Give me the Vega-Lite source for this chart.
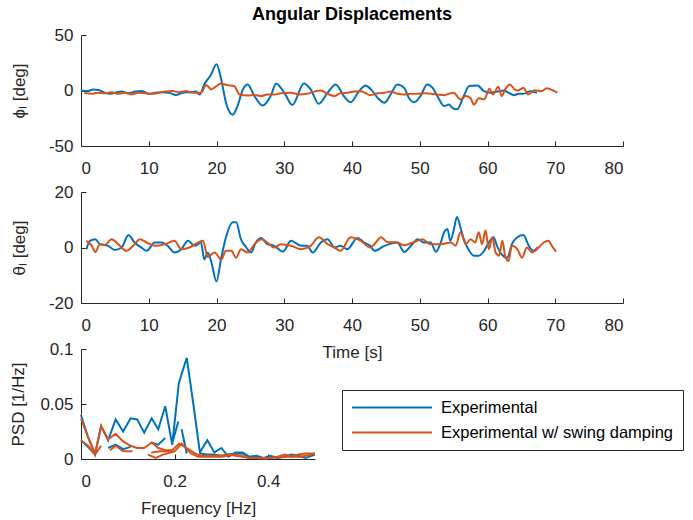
{
  "$schema": "https://vega.github.io/schema/vega-lite/v6.json",
  "background": "white",
  "padding": {"left": 9, "top": 6, "right": 5, "bottom": 5},
  "bounds": "flush",
  "spacing": 46,
  "config": {
    "view": {"stroke": null},
    "font": "Liberation Sans",
    "axis": {
      "grid": false,
      "domainColor": "#262626",
      "tickColor": "#262626",
      "labelColor": "#262626",
      "titleColor": "#262626",
      "labelFont": "Liberation Sans",
      "titleFont": "Liberation Sans",
      "labelFontSize": 17,
      "titleFontSize": 17,
      "titleFontWeight": "normal",
      "tickSize": -5,
      "domainWidth": 1,
      "tickWidth": 1,
      "labelExpr": "replace(format(datum.value, '~g'), '\u2212', '-')"
    },
    "axisX": {"labelPadding": 19, "titlePadding": 11},
    "axisY": {"labelPadding": 13, "titlePadding": 15}
  },
  "resolve": {"legend": {"color": "independent"}},
  "datasets": {
    "phi": [
      {"s": "Experimental", "t": 0, "v": 0}, {"s": "Experimental", "t": 1, "v": -0.5}, {"s": "Experimental", "t": 1.8, "v": 1}, {"s": "Experimental", "t": 2.6, "v": 0.5}, {"s": "Experimental", "t": 3.3, "v": -1.5}, {"s": "Experimental", "t": 4.2, "v": -3}, {"s": "Experimental", "t": 5, "v": -2}, {"s": "Experimental", "t": 6, "v": -1}, {"s": "Experimental", "t": 7, "v": -2.5}, {"s": "Experimental", "t": 8, "v": -1}, {"s": "Experimental", "t": 9, "v": -0.5}, {"s": "Experimental", "t": 10, "v": -3}, {"s": "Experimental", "t": 11, "v": -2}, {"s": "Experimental", "t": 12, "v": -1.5}, {"s": "Experimental", "t": 13, "v": -2}, {"s": "Experimental", "t": 14, "v": -4}, {"s": "Experimental", "t": 15, "v": -2}, {"s": "Experimental", "t": 16, "v": -1.5}, {"s": "Experimental", "t": 17, "v": -1}, {"s": "Experimental", "t": 17.5, "v": -3.6}, {"s": "Experimental", "t": 18.2, "v": 5.5}, {"s": "Experimental", "t": 19.2, "v": 14.5}, {"s": "Experimental", "t": 20, "v": 23.6}, {"s": "Experimental", "t": 20.7, "v": 10}, {"s": "Experimental", "t": 21.4, "v": -11}, {"s": "Experimental", "t": 22.4, "v": -21.8}, {"s": "Experimental", "t": 23.1, "v": -14}, {"s": "Experimental", "t": 23.9, "v": 1}, {"s": "Experimental", "t": 24.6, "v": 5.5}, {"s": "Experimental", "t": 25.6, "v": -5}, {"s": "Experimental", "t": 26.8, "v": -13.6}, {"s": "Experimental", "t": 28, "v": -5}, {"s": "Experimental", "t": 28.8, "v": 6.4}, {"s": "Experimental", "t": 30, "v": -2}, {"s": "Experimental", "t": 31.2, "v": -13}, {"s": "Experimental", "t": 32.9, "v": 6.4}, {"s": "Experimental", "t": 33.9, "v": 1}, {"s": "Experimental", "t": 35.1, "v": -12}, {"s": "Experimental", "t": 36.4, "v": -2}, {"s": "Experimental", "t": 37.6, "v": 5.5}, {"s": "Experimental", "t": 38.8, "v": -5}, {"s": "Experimental", "t": 39.8, "v": -10.6}, {"s": "Experimental", "t": 41, "v": -1}, {"s": "Experimental", "t": 42, "v": 4.5}, {"s": "Experimental", "t": 42.8, "v": 1}, {"s": "Experimental", "t": 43.8, "v": -6.7}, {"s": "Experimental", "t": 44.8, "v": -11}, {"s": "Experimental", "t": 45.7, "v": -3.6}, {"s": "Experimental", "t": 46.7, "v": 5.5}, {"s": "Experimental", "t": 47.7, "v": 2.4}, {"s": "Experimental", "t": 48.4, "v": -6.7}, {"s": "Experimental", "t": 49.2, "v": -10.6}, {"s": "Experimental", "t": 50.1, "v": -5}, {"s": "Experimental", "t": 51.1, "v": 5.5}, {"s": "Experimental", "t": 51.9, "v": 2.4}, {"s": "Experimental", "t": 52.6, "v": -5}, {"s": "Experimental", "t": 53.6, "v": -14}, {"s": "Experimental", "t": 54.3, "v": -12.7}, {"s": "Experimental", "t": 54.8, "v": -15.5}, {"s": "Experimental", "t": 55.5, "v": -17}, {"s": "Experimental", "t": 56.5, "v": -5}, {"s": "Experimental", "t": 57.3, "v": 4}, {"s": "Experimental", "t": 58.5, "v": 4.5}, {"s": "Experimental", "t": 59.5, "v": -0.6}, {"s": "Experimental", "t": 60.4, "v": -2}, {"s": "Experimental", "t": 61.4, "v": -1}, {"s": "Experimental", "t": 62.4, "v": 0}, {"s": "Experimental", "t": 63.1, "v": -2}, {"s": "Experimental", "t": 63.9, "v": -4.2}, {"s": "Experimental", "t": 64.6, "v": -3}, {"s": "Experimental", "t": 65.3, "v": -3}, {"s": "Experimental", "t": 66.3, "v": -0.6}, {"s": "Experimental", "t": 67.3, "v": -2},
      {"s": "Experimental w/ swing damping", "t": 0.5, "v": -2}, {"s": "Experimental w/ swing damping", "t": 1.5, "v": -3}, {"s": "Experimental w/ swing damping", "t": 2.5, "v": -2}, {"s": "Experimental w/ swing damping", "t": 3.5, "v": -2.5}, {"s": "Experimental w/ swing damping", "t": 4.5, "v": -1.5}, {"s": "Experimental w/ swing damping", "t": 5.5, "v": -3}, {"s": "Experimental w/ swing damping", "t": 6.5, "v": -2}, {"s": "Experimental w/ swing damping", "t": 7.5, "v": -3.5}, {"s": "Experimental w/ swing damping", "t": 8.5, "v": -2}, {"s": "Experimental w/ swing damping", "t": 9.5, "v": -2.5}, {"s": "Experimental w/ swing damping", "t": 10.5, "v": -3}, {"s": "Experimental w/ swing damping", "t": 11.5, "v": -2}, {"s": "Experimental w/ swing damping", "t": 12.4, "v": -1}, {"s": "Experimental w/ swing damping", "t": 13.5, "v": -0.5}, {"s": "Experimental w/ swing damping", "t": 14.5, "v": -1.5}, {"s": "Experimental w/ swing damping", "t": 15.5, "v": -0.5}, {"s": "Experimental w/ swing damping", "t": 16.5, "v": -2}, {"s": "Experimental w/ swing damping", "t": 17.7, "v": -2}, {"s": "Experimental w/ swing damping", "t": 18.5, "v": 5}, {"s": "Experimental w/ swing damping", "t": 19.2, "v": 1}, {"s": "Experimental w/ swing damping", "t": 19.8, "v": 3}, {"s": "Experimental w/ swing damping", "t": 20.7, "v": 6.4}, {"s": "Experimental w/ swing damping", "t": 21.5, "v": 5}, {"s": "Experimental w/ swing damping", "t": 22.6, "v": 4}, {"s": "Experimental w/ swing damping", "t": 23.4, "v": -3.6}, {"s": "Experimental w/ swing damping", "t": 24.6, "v": -4.5}, {"s": "Experimental w/ swing damping", "t": 25.6, "v": -4}, {"s": "Experimental w/ swing damping", "t": 26.6, "v": -5}, {"s": "Experimental w/ swing damping", "t": 27.5, "v": -3.5}, {"s": "Experimental w/ swing damping", "t": 28.5, "v": -3.6}, {"s": "Experimental w/ swing damping", "t": 29.5, "v": -2.5}, {"s": "Experimental w/ swing damping", "t": 31, "v": -2}, {"s": "Experimental w/ swing damping", "t": 32.2, "v": -3.5}, {"s": "Experimental w/ swing damping", "t": 33.4, "v": -3}, {"s": "Experimental w/ swing damping", "t": 34.4, "v": -1}, {"s": "Experimental w/ swing damping", "t": 35.4, "v": 0}, {"s": "Experimental w/ swing damping", "t": 36.4, "v": -3}, {"s": "Experimental w/ swing damping", "t": 37.4, "v": -5}, {"s": "Experimental w/ swing damping", "t": 38.3, "v": -2.5}, {"s": "Experimental w/ swing damping", "t": 39.3, "v": -2}, {"s": "Experimental w/ swing damping", "t": 40.3, "v": -1}, {"s": "Experimental w/ swing damping", "t": 41.3, "v": -0.6}, {"s": "Experimental w/ swing damping", "t": 42.7, "v": -4.2}, {"s": "Experimental w/ swing damping", "t": 43.8, "v": -2.5}, {"s": "Experimental w/ swing damping", "t": 44.8, "v": -2}, {"s": "Experimental w/ swing damping", "t": 45.7, "v": -0.8}, {"s": "Experimental w/ swing damping", "t": 46.7, "v": -3}, {"s": "Experimental w/ swing damping", "t": 47.7, "v": -3.6}, {"s": "Experimental w/ swing damping", "t": 48.7, "v": -3}, {"s": "Experimental w/ swing damping", "t": 49.7, "v": -3}, {"s": "Experimental w/ swing damping", "t": 50.7, "v": -2.5}, {"s": "Experimental w/ swing damping", "t": 51.6, "v": -3}, {"s": "Experimental w/ swing damping", "t": 52.6, "v": -3.5}, {"s": "Experimental w/ swing damping", "t": 53.6, "v": -4.2}, {"s": "Experimental w/ swing damping", "t": 54.3, "v": -3}, {"s": "Experimental w/ swing damping", "t": 55, "v": -2}, {"s": "Experimental w/ swing damping", "t": 56, "v": -8}, {"s": "Experimental w/ swing damping", "t": 56.8, "v": -5}, {"s": "Experimental w/ swing damping", "t": 57.5, "v": -7}, {"s": "Experimental w/ swing damping", "t": 58, "v": -12.7}, {"s": "Experimental w/ swing damping", "t": 58.7, "v": -7}, {"s": "Experimental w/ swing damping", "t": 59.5, "v": -8}, {"s": "Experimental w/ swing damping", "t": 60.3, "v": 1.5}, {"s": "Experimental w/ swing damping", "t": 60.8, "v": -3.6}, {"s": "Experimental w/ swing damping", "t": 61.6, "v": 3.3}, {"s": "Experimental w/ swing damping", "t": 62.1, "v": -5}, {"s": "Experimental w/ swing damping", "t": 62.6, "v": 1}, {"s": "Experimental w/ swing damping", "t": 63.3, "v": 5.5}, {"s": "Experimental w/ swing damping", "t": 64, "v": 1}, {"s": "Experimental w/ swing damping", "t": 64.5, "v": 0}, {"s": "Experimental w/ swing damping", "t": 65.3, "v": 2.4}, {"s": "Experimental w/ swing damping", "t": 66, "v": -3.6}, {"s": "Experimental w/ swing damping", "t": 67, "v": 0.3}, {"s": "Experimental w/ swing damping", "t": 68, "v": -0.6}, {"s": "Experimental w/ swing damping", "t": 68.7, "v": 2}, {"s": "Experimental w/ swing damping", "t": 69.7, "v": 0}, {"s": "Experimental w/ swing damping", "t": 70.3, "v": -2}
    ],
    "theta": [
      {"s": "Experimental", "t": 0.8, "v": -0.6}, {"s": "Experimental", "t": 1.3, "v": 2.4}, {"s": "Experimental", "t": 2.1, "v": 3}, {"s": "Experimental", "t": 2.8, "v": 1.2}, {"s": "Experimental", "t": 4, "v": 0.6}, {"s": "Experimental", "t": 5, "v": -0.9}, {"s": "Experimental", "t": 6, "v": 0}, {"s": "Experimental", "t": 7, "v": 4.5}, {"s": "Experimental", "t": 7.9, "v": 1.8}, {"s": "Experimental", "t": 8.9, "v": 0}, {"s": "Experimental", "t": 9.7, "v": -1.2}, {"s": "Experimental", "t": 10.9, "v": 1.8}, {"s": "Experimental", "t": 11.9, "v": 1.8}, {"s": "Experimental", "t": 12.8, "v": 0.6}, {"s": "Experimental", "t": 13.8, "v": -1.8}, {"s": "Experimental", "t": 14.8, "v": -0.6}, {"s": "Experimental", "t": 15.8, "v": 2.4}, {"s": "Experimental", "t": 16.8, "v": 0.6}, {"s": "Experimental", "t": 17.7, "v": 1.8}, {"s": "Experimental", "t": 18.2, "v": -4.3}, {"s": "Experimental", "t": 18.7, "v": -1.8}, {"s": "Experimental", "t": 19.2, "v": -4.9}, {"s": "Experimental", "t": 20, "v": -12.2}, {"s": "Experimental", "t": 20.7, "v": -3.7}, {"s": "Experimental", "t": 21.4, "v": 3.7}, {"s": "Experimental", "t": 22.4, "v": 9.1}, {"s": "Experimental", "t": 22.9, "v": 9.1}, {"s": "Experimental", "t": 23.6, "v": 3}, {"s": "Experimental", "t": 24.4, "v": 0}, {"s": "Experimental", "t": 25.1, "v": -1.8}, {"s": "Experimental", "t": 25.8, "v": 1.8}, {"s": "Experimental", "t": 26.6, "v": 3.4}, {"s": "Experimental", "t": 27.5, "v": 1.2}, {"s": "Experimental", "t": 28.5, "v": 0.6}, {"s": "Experimental", "t": 29.8, "v": -1.5}, {"s": "Experimental", "t": 31, "v": 2.4}, {"s": "Experimental", "t": 32.5, "v": 0.6}, {"s": "Experimental", "t": 33.4, "v": 0.6}, {"s": "Experimental", "t": 34.2, "v": -1.8}, {"s": "Experimental", "t": 35.4, "v": 1.8}, {"s": "Experimental", "t": 36.4, "v": 3}, {"s": "Experimental", "t": 37.4, "v": 0}, {"s": "Experimental", "t": 38.3, "v": 0.6}, {"s": "Experimental", "t": 39.3, "v": -0.6}, {"s": "Experimental", "t": 40.8, "v": 3.4}, {"s": "Experimental", "t": 41.8, "v": 1.8}, {"s": "Experimental", "t": 42.7, "v": 0.6}, {"s": "Experimental", "t": 43.3, "v": -1.2}, {"s": "Experimental", "t": 44.8, "v": 0.6}, {"s": "Experimental", "t": 46.7, "v": 1.8}, {"s": "Experimental", "t": 47.7, "v": -1.6}, {"s": "Experimental", "t": 48.7, "v": 0.6}, {"s": "Experimental", "t": 49.7, "v": 3}, {"s": "Experimental", "t": 50.6, "v": 1.8}, {"s": "Experimental", "t": 51.6, "v": 1.8}, {"s": "Experimental", "t": 52.4, "v": -1.5}, {"s": "Experimental", "t": 53.1, "v": 1.8}, {"s": "Experimental", "t": 53.6, "v": 5.5}, {"s": "Experimental", "t": 54.1, "v": 6.7}, {"s": "Experimental", "t": 54.5, "v": 2.4}, {"s": "Experimental", "t": 55, "v": 6.1}, {"s": "Experimental", "t": 55.5, "v": 11}, {"s": "Experimental", "t": 56, "v": 7.3}, {"s": "Experimental", "t": 56.5, "v": 3}, {"s": "Experimental", "t": 57.3, "v": -1.2}, {"s": "Experimental", "t": 58, "v": -3}, {"s": "Experimental", "t": 58.7, "v": -3}, {"s": "Experimental", "t": 59.5, "v": -1.2}, {"s": "Experimental", "t": 60.2, "v": 1.8}, {"s": "Experimental", "t": 60.9, "v": 3.7}, {"s": "Experimental", "t": 61.4, "v": 0.6}, {"s": "Experimental", "t": 61.9, "v": -1.8}, {"s": "Experimental", "t": 62.9, "v": -3.7}, {"s": "Experimental", "t": 63.6, "v": 1.2}, {"s": "Experimental", "t": 64.4, "v": 3.7}, {"s": "Experimental", "t": 65.3, "v": 4.5}, {"s": "Experimental", "t": 66.1, "v": 0.6}, {"s": "Experimental", "t": 66.8, "v": -1.2}, {"s": "Experimental", "t": 67.4, "v": 0},
      {"s": "Experimental w/ swing damping", "t": 0.8, "v": 2.4}, {"s": "Experimental w/ swing damping", "t": 1.6, "v": 0.6}, {"s": "Experimental w/ swing damping", "t": 2.1, "v": -1.6}, {"s": "Experimental w/ swing damping", "t": 2.8, "v": 1.2}, {"s": "Experimental w/ swing damping", "t": 3.6, "v": 1}, {"s": "Experimental w/ swing damping", "t": 4.5, "v": 3}, {"s": "Experimental w/ swing damping", "t": 5.5, "v": 1.2}, {"s": "Experimental w/ swing damping", "t": 6.7, "v": -1.2}, {"s": "Experimental w/ swing damping", "t": 7.7, "v": 0.6}, {"s": "Experimental w/ swing damping", "t": 8.7, "v": 3}, {"s": "Experimental w/ swing damping", "t": 9.7, "v": 1.8}, {"s": "Experimental w/ swing damping", "t": 10.9, "v": 0.6}, {"s": "Experimental w/ swing damping", "t": 12.4, "v": 1.2}, {"s": "Experimental w/ swing damping", "t": 13.8, "v": 2.4}, {"s": "Experimental w/ swing damping", "t": 14.8, "v": -0.6}, {"s": "Experimental w/ swing damping", "t": 16, "v": 0}, {"s": "Experimental w/ swing damping", "t": 17.3, "v": 1.8}, {"s": "Experimental w/ swing damping", "t": 18, "v": 2.4}, {"s": "Experimental w/ swing damping", "t": 18.7, "v": -3.4}, {"s": "Experimental w/ swing damping", "t": 19.7, "v": -1.8}, {"s": "Experimental w/ swing damping", "t": 20.7, "v": -4.3}, {"s": "Experimental w/ swing damping", "t": 21.4, "v": -1.2}, {"s": "Experimental w/ swing damping", "t": 22.2, "v": -1.2}, {"s": "Experimental w/ swing damping", "t": 22.9, "v": -3.7}, {"s": "Experimental w/ swing damping", "t": 23.6, "v": -0.6}, {"s": "Experimental w/ swing damping", "t": 24.6, "v": -1.8}, {"s": "Experimental w/ swing damping", "t": 25.6, "v": 1.2}, {"s": "Experimental w/ swing damping", "t": 26.6, "v": 3}, {"s": "Experimental w/ swing damping", "t": 27.5, "v": 1.8}, {"s": "Experimental w/ swing damping", "t": 28.5, "v": 0}, {"s": "Experimental w/ swing damping", "t": 29.5, "v": 1.2}, {"s": "Experimental w/ swing damping", "t": 31, "v": 0.6}, {"s": "Experimental w/ swing damping", "t": 32.5, "v": -0.6}, {"s": "Experimental w/ swing damping", "t": 33.9, "v": 0.6}, {"s": "Experimental w/ swing damping", "t": 35.1, "v": 3.7}, {"s": "Experimental w/ swing damping", "t": 36.4, "v": 1.2}, {"s": "Experimental w/ swing damping", "t": 37.4, "v": 0}, {"s": "Experimental w/ swing damping", "t": 38.3, "v": -1.2}, {"s": "Experimental w/ swing damping", "t": 39.8, "v": 3.7}, {"s": "Experimental w/ swing damping", "t": 41.3, "v": 2.4}, {"s": "Experimental w/ swing damping", "t": 42.7, "v": 0}, {"s": "Experimental w/ swing damping", "t": 43.3, "v": 1.2}, {"s": "Experimental w/ swing damping", "t": 44.3, "v": 3.7}, {"s": "Experimental w/ swing damping", "t": 45.2, "v": 2}, {"s": "Experimental w/ swing damping", "t": 46.7, "v": 1.8}, {"s": "Experimental w/ swing damping", "t": 47.7, "v": 0.8}, {"s": "Experimental w/ swing damping", "t": 49.2, "v": 2}, {"s": "Experimental w/ swing damping", "t": 50.4, "v": 3}, {"s": "Experimental w/ swing damping", "t": 51.6, "v": 1.2}, {"s": "Experimental w/ swing damping", "t": 53.1, "v": 1.2}, {"s": "Experimental w/ swing damping", "t": 54.6, "v": 1.8}, {"s": "Experimental w/ swing damping", "t": 55.3, "v": 0.6}, {"s": "Experimental w/ swing damping", "t": 56, "v": 5.5}, {"s": "Experimental w/ swing damping", "t": 56.8, "v": 1.2}, {"s": "Experimental w/ swing damping", "t": 57.5, "v": 3}, {"s": "Experimental w/ swing damping", "t": 58.2, "v": 1.8}, {"s": "Experimental w/ swing damping", "t": 58.7, "v": 5.5}, {"s": "Experimental w/ swing damping", "t": 59.2, "v": 1.2}, {"s": "Experimental w/ swing damping", "t": 59.7, "v": 6.1}, {"s": "Experimental w/ swing damping", "t": 60.2, "v": -0.6}, {"s": "Experimental w/ swing damping", "t": 60.7, "v": 3.7}, {"s": "Experimental w/ swing damping", "t": 61.2, "v": -1.8}, {"s": "Experimental w/ swing damping", "t": 61.7, "v": -3}, {"s": "Experimental w/ swing damping", "t": 62.2, "v": 2.4}, {"s": "Experimental w/ swing damping", "t": 62.6, "v": -3}, {"s": "Experimental w/ swing damping", "t": 63.1, "v": -4.9}, {"s": "Experimental w/ swing damping", "t": 63.6, "v": 0.6}, {"s": "Experimental w/ swing damping", "t": 64.4, "v": -0.6}, {"s": "Experimental w/ swing damping", "t": 65.1, "v": -3.7}, {"s": "Experimental w/ swing damping", "t": 65.8, "v": 0}, {"s": "Experimental w/ swing damping", "t": 66.6, "v": -1.8}, {"s": "Experimental w/ swing damping", "t": 67.3, "v": -0.6}, {"s": "Experimental w/ swing damping", "t": 68.3, "v": 1.8}, {"s": "Experimental w/ swing damping", "t": 69, "v": 2.4}, {"s": "Experimental w/ swing damping", "t": 69.5, "v": 0.6}, {"s": "Experimental w/ swing damping", "t": 70.1, "v": -1.5}
    ],
    "psd": [
      {"s": "Experimental", "g": "b1", "f": 0, "v": 0.040}, {"s": "Experimental", "g": "b1", "f": 0.015, "v": 0.02}, {"s": "Experimental", "g": "b1", "f": 0.03, "v": 0.004}, {"s": "Experimental", "g": "b1", "f": 0.043, "v": 0.030}, {"s": "Experimental", "g": "b1", "f": 0.058, "v": 0.017}, {"s": "Experimental", "g": "b1", "f": 0.074, "v": 0.036}, {"s": "Experimental", "g": "b1", "f": 0.09, "v": 0.025}, {"s": "Experimental", "g": "b1", "f": 0.106, "v": 0.037}, {"s": "Experimental", "g": "b1", "f": 0.12, "v": 0.036}, {"s": "Experimental", "g": "b1", "f": 0.135, "v": 0.024}, {"s": "Experimental", "g": "b1", "f": 0.151, "v": 0.037}, {"s": "Experimental", "g": "b1", "f": 0.165, "v": 0.027}, {"s": "Experimental", "g": "b1", "f": 0.18, "v": 0.048}, {"s": "Experimental", "g": "b1", "f": 0.195, "v": 0.013}, {"s": "Experimental", "g": "b1", "f": 0.209, "v": 0.069}, {"s": "Experimental", "g": "b1", "f": 0.226, "v": 0.092}, {"s": "Experimental", "g": "b1", "f": 0.24, "v": 0.05}, {"s": "Experimental", "g": "b1", "f": 0.254, "v": 0.006}, {"s": "Experimental", "g": "b1", "f": 0.27, "v": 0.017}, {"s": "Experimental", "g": "b1", "f": 0.285, "v": 0.006}, {"s": "Experimental", "g": "b1", "f": 0.3, "v": 0.01}, {"s": "Experimental", "g": "b1", "f": 0.315, "v": 0.002}, {"s": "Experimental", "g": "b1", "f": 0.33, "v": 0.006}, {"s": "Experimental", "g": "b1", "f": 0.345, "v": 0.006}, {"s": "Experimental", "g": "b1", "f": 0.36, "v": 0.002}, {"s": "Experimental", "g": "b1", "f": 0.375, "v": 0.003}, {"s": "Experimental", "g": "b1", "f": 0.39, "v": 0.001}, {"s": "Experimental", "g": "b1", "f": 0.405, "v": 0.003}, {"s": "Experimental", "g": "b1", "f": 0.42, "v": 0.001}, {"s": "Experimental", "g": "b1", "f": 0.435, "v": 0.002}, {"s": "Experimental", "g": "b1", "f": 0.45, "v": 0.004}, {"s": "Experimental", "g": "b1", "f": 0.465, "v": 0.003}, {"s": "Experimental", "g": "b1", "f": 0.48, "v": 0.001}, {"s": "Experimental", "g": "b1", "f": 0.5, "v": 0.004},
      {"s": "Experimental", "g": "b2", "f": 0, "v": 0.017}, {"s": "Experimental", "g": "b2", "f": 0.015, "v": 0.011}, {"s": "Experimental", "g": "b2", "f": 0.03, "v": 0.004},
      {"s": "Experimental", "g": "b3", "f": 0.058, "v": 0.010}, {"s": "Experimental", "g": "b3", "f": 0.074, "v": 0.013}, {"s": "Experimental", "g": "b3", "f": 0.09, "v": 0.009}, {"s": "Experimental", "g": "b3", "f": 0.106, "v": 0.011},
      {"s": "Experimental", "g": "b4", "f": 0.15, "v": 0.015}, {"s": "Experimental", "g": "b4", "f": 0.165, "v": 0.013}, {"s": "Experimental", "g": "b4", "f": 0.18, "v": 0.019},
      {"s": "Experimental", "g": "b5", "f": 0.196, "v": 0.016}, {"s": "Experimental", "g": "b5", "f": 0.208, "v": 0.034},
      {"s": "Experimental", "g": "b6", "f": 0.215, "v": 0.027}, {"s": "Experimental", "g": "b6", "f": 0.226, "v": 0.005},
      {"s": "Experimental", "g": "b7", "f": 0.254, "v": 0.005}, {"s": "Experimental", "g": "b7", "f": 0.27, "v": 0.004}, {"s": "Experimental", "g": "b7", "f": 0.285, "v": 0.004}, {"s": "Experimental", "g": "b7", "f": 0.3, "v": 0.003}, {"s": "Experimental", "g": "b7", "f": 0.315, "v": 0.004}, {"s": "Experimental", "g": "b7", "f": 0.33, "v": 0.005}, {"s": "Experimental", "g": "b7", "f": 0.345, "v": 0.005}, {"s": "Experimental", "g": "b7", "f": 0.36, "v": 0.002},
      {"s": "Experimental w/ swing damping", "g": "r1", "f": 0, "v": 0.037}, {"s": "Experimental w/ swing damping", "g": "r1", "f": 0.015, "v": 0.02}, {"s": "Experimental w/ swing damping", "g": "r1", "f": 0.03, "v": 0.005}, {"s": "Experimental w/ swing damping", "g": "r1", "f": 0.043, "v": 0.030}, {"s": "Experimental w/ swing damping", "g": "r1", "f": 0.058, "v": 0.018}, {"s": "Experimental w/ swing damping", "g": "r1", "f": 0.074, "v": 0.023}, {"s": "Experimental w/ swing damping", "g": "r1", "f": 0.09, "v": 0.016}, {"s": "Experimental w/ swing damping", "g": "r1", "f": 0.106, "v": 0.012}, {"s": "Experimental w/ swing damping", "g": "r1", "f": 0.12, "v": 0.010}, {"s": "Experimental w/ swing damping", "g": "r1", "f": 0.135, "v": 0.010}, {"s": "Experimental w/ swing damping", "g": "r1", "f": 0.151, "v": 0.015}, {"s": "Experimental w/ swing damping", "g": "r1", "f": 0.165, "v": 0.010}, {"s": "Experimental w/ swing damping", "g": "r1", "f": 0.18, "v": 0.008}, {"s": "Experimental w/ swing damping", "g": "r1", "f": 0.195, "v": 0.008}, {"s": "Experimental w/ swing damping", "g": "r1", "f": 0.21, "v": 0.014}, {"s": "Experimental w/ swing damping", "g": "r1", "f": 0.226, "v": 0.010}, {"s": "Experimental w/ swing damping", "g": "r1", "f": 0.24, "v": 0.006}, {"s": "Experimental w/ swing damping", "g": "r1", "f": 0.254, "v": 0.003}, {"s": "Experimental w/ swing damping", "g": "r1", "f": 0.27, "v": 0.003}, {"s": "Experimental w/ swing damping", "g": "r1", "f": 0.285, "v": 0.003}, {"s": "Experimental w/ swing damping", "g": "r1", "f": 0.3, "v": 0.003}, {"s": "Experimental w/ swing damping", "g": "r1", "f": 0.315, "v": 0.004}, {"s": "Experimental w/ swing damping", "g": "r1", "f": 0.33, "v": 0.003}, {"s": "Experimental w/ swing damping", "g": "r1", "f": 0.345, "v": 0.002}, {"s": "Experimental w/ swing damping", "g": "r1", "f": 0.36, "v": 0.001}, {"s": "Experimental w/ swing damping", "g": "r1", "f": 0.375, "v": 0.001}, {"s": "Experimental w/ swing damping", "g": "r1", "f": 0.39, "v": 0.0005}, {"s": "Experimental w/ swing damping", "g": "r1", "f": 0.405, "v": 0.001}, {"s": "Experimental w/ swing damping", "g": "r1", "f": 0.42, "v": 0.002}, {"s": "Experimental w/ swing damping", "g": "r1", "f": 0.435, "v": 0.004}, {"s": "Experimental w/ swing damping", "g": "r1", "f": 0.45, "v": 0.002}, {"s": "Experimental w/ swing damping", "g": "r1", "f": 0.465, "v": 0.004}, {"s": "Experimental w/ swing damping", "g": "r1", "f": 0.48, "v": 0.005}, {"s": "Experimental w/ swing damping", "g": "r1", "f": 0.5, "v": 0.005},
      {"s": "Experimental w/ swing damping", "g": "r2", "f": 0, "v": 0.017}, {"s": "Experimental w/ swing damping", "g": "r2", "f": 0.015, "v": 0.012}, {"s": "Experimental w/ swing damping", "g": "r2", "f": 0.03, "v": 0.004}, {"s": "Experimental w/ swing damping", "g": "r2", "f": 0.043, "v": 0.012},
      {"s": "Experimental w/ swing damping", "g": "r3", "f": 0.062, "v": 0.008}, {"s": "Experimental w/ swing damping", "g": "r3", "f": 0.074, "v": 0.012}, {"s": "Experimental w/ swing damping", "g": "r3", "f": 0.09, "v": 0.007}, {"s": "Experimental w/ swing damping", "g": "r3", "f": 0.11, "v": 0.007},
      {"s": "Experimental w/ swing damping", "g": "r4", "f": 0.143, "v": 0.004}, {"s": "Experimental w/ swing damping", "g": "r4", "f": 0.16, "v": 0.001}, {"s": "Experimental w/ swing damping", "g": "r4", "f": 0.175, "v": 0.004}, {"s": "Experimental w/ swing damping", "g": "r4", "f": 0.2, "v": 0.007}, {"s": "Experimental w/ swing damping", "g": "r4", "f": 0.215, "v": 0.014}, {"s": "Experimental w/ swing damping", "g": "r4", "f": 0.235, "v": 0.005}, {"s": "Experimental w/ swing damping", "g": "r4", "f": 0.25, "v": 0.002}, {"s": "Experimental w/ swing damping", "g": "r4", "f": 0.27, "v": 0.002}, {"s": "Experimental w/ swing damping", "g": "r4", "f": 0.3, "v": 0.002}, {"s": "Experimental w/ swing damping", "g": "r4", "f": 0.33, "v": 0.004}, {"s": "Experimental w/ swing damping", "g": "r4", "f": 0.36, "v": 0.001}, {"s": "Experimental w/ swing damping", "g": "r4", "f": 0.4, "v": 0.001}, {"s": "Experimental w/ swing damping", "g": "r4", "f": 0.44, "v": 0.002}, {"s": "Experimental w/ swing damping", "g": "r4", "f": 0.47, "v": 0.002}, {"s": "Experimental w/ swing damping", "g": "r4", "f": 0.5, "v": 0.005},
      {"s": "Experimental w/ swing damping", "g": "r5", "f": 0.15, "v": 0.006}, {"s": "Experimental w/ swing damping", "g": "r5", "f": 0.17, "v": 0.007}, {"s": "Experimental w/ swing damping", "g": "r5", "f": 0.195, "v": 0.007}
    ]
  },
  "vconcat": [
    {
      "width": 542,
      "height": 111,
      "title": {"text": "Angular Displacements", "fontSize": 18, "fontWeight": "bold", "font": "Liberation Sans", "color": "black", "anchor": "middle", "offset": 2},
      "data": {"name": "phi"},
      "mark": {"type": "line", "strokeWidth": 2, "interpolate": "monotone"},
      "encoding": {
        "x": {"field": "t", "type": "quantitative", "scale": {"domain": [0, 80], "nice": false}, "axis": {"values": [0, 10, 20, 30, 40, 50, 60, 70, 80], "title": null}},
        "y": {"field": "v", "type": "quantitative", "scale": {"domain": [-50, 50], "nice": false}, "axis": {"values": [-50, 0, 50], "title": "ϕₗ [deg]", "titlePadding": 20}},
        "color": {"field": "s", "type": "nominal", "scale": {"domain": ["Experimental", "Experimental w/ swing damping"], "range": ["#0072BD", "#D95319"]}, "legend": null}
      }
    },
    {
      "width": 542,
      "height": 111,
      "data": {"name": "theta"},
      "mark": {"type": "line", "strokeWidth": 2, "interpolate": "monotone"},
      "encoding": {
        "x": {"field": "t", "type": "quantitative", "scale": {"domain": [0, 80], "nice": false}, "axis": {"values": [0, 10, 20, 30, 40, 50, 60, 70, 80], "title": "Time [s]"}},
        "y": {"field": "v", "type": "quantitative", "scale": {"domain": [-20, 20], "nice": false}, "axis": {"values": [-20, 0, 20], "title": "θₗ [deg]", "titlePadding": 20}},
        "color": {"field": "s", "type": "nominal", "scale": {"domain": ["Experimental", "Experimental w/ swing damping"], "range": ["#0072BD", "#D95319"]}, "legend": null}
      }
    },
    {
      "width": 234,
      "height": 110,
      "data": {"name": "psd"},
      "mark": {"type": "line", "strokeWidth": 2},
      "encoding": {
        "x": {"field": "f", "type": "quantitative", "scale": {"domain": [0, 0.5], "nice": false}, "axis": {"values": [0, 0.2, 0.4], "title": "Frequency [Hz]"}},
        "y": {"field": "v", "type": "quantitative", "scale": {"domain": [0, 0.1], "nice": false}, "axis": {"values": [0, 0.05, 0.1], "title": "PSD [1/Hz]", "titlePadding": 12}},
        "detail": {"field": "g", "type": "nominal"},
        "color": {
          "field": "s", "type": "nominal",
          "scale": {"domain": ["Experimental", "Experimental w/ swing damping"], "range": ["#0072BD", "#D95319"]},
          "legend": {
            "orient": "none", "legendX": 261, "legendY": 41, "title": null,
            "symbolType": "stroke", "symbolSize": 6400, "symbolStrokeWidth": 2, "clipHeight": 17,
            "labelFont": "Liberation Sans", "labelFontSize": 16.5, "labelColor": "black", "labelLimit": 400,
            "labelOffset": 8, "rowPadding": 8, "padding": 9,
            "strokeColor": "#262626", "fillColor": "white"
          }
        }
      }
    }
  ]
}
